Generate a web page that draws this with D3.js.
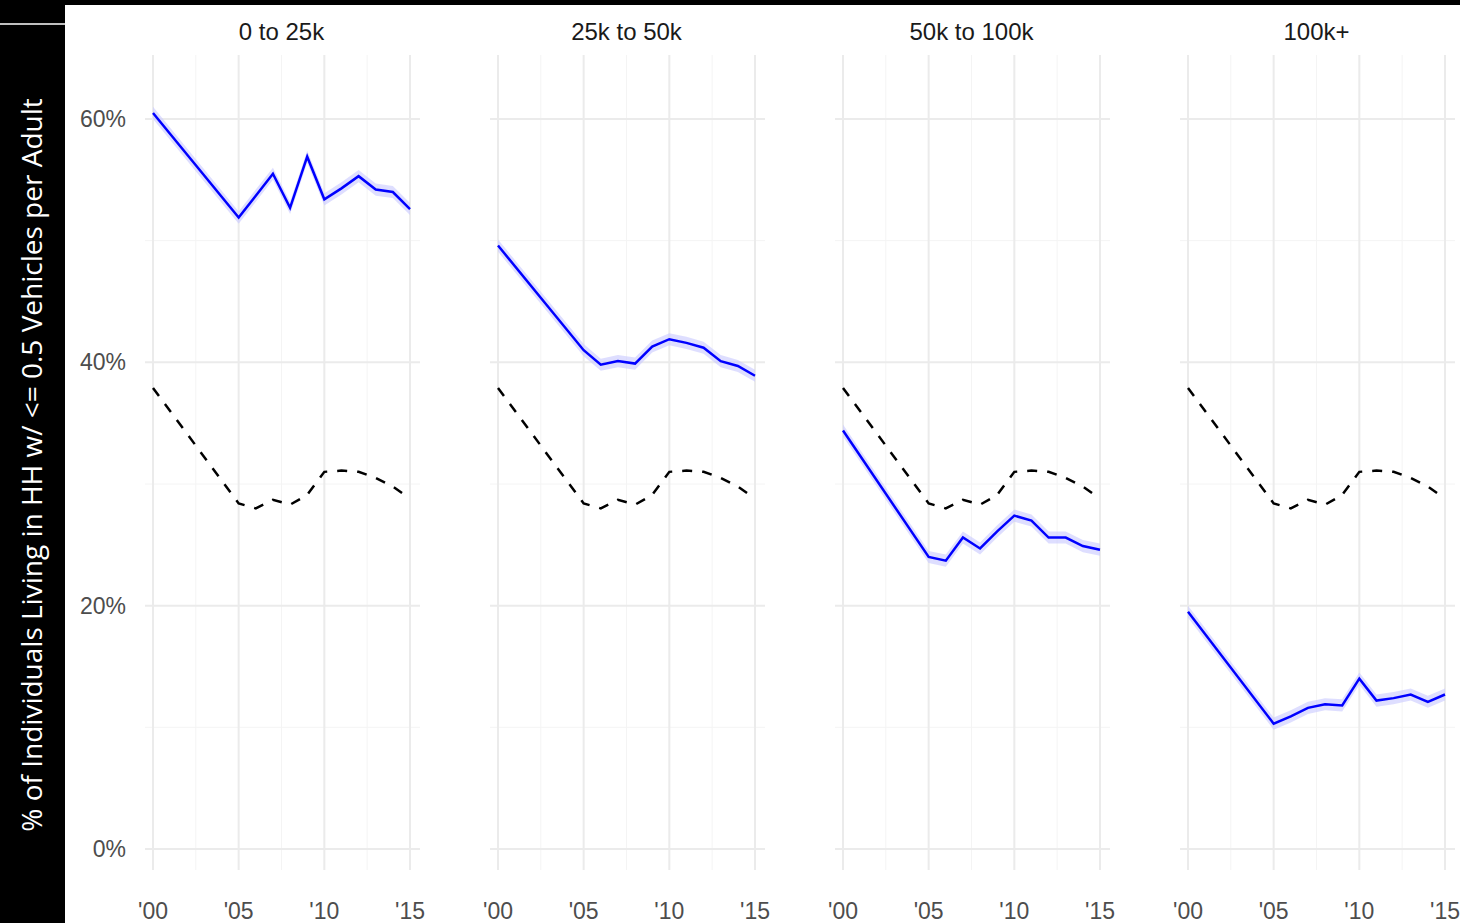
<!DOCTYPE html>
<html><head><meta charset="utf-8">
<script src="https://cdn.jsdelivr.net/npm/d3@7"></script>
<style>body{margin:0;background:#fff}</style></head>
<body><svg id="c" width="1460" height="923"></svg>
<script>
const panels = ["0 to 25k","25k to 50k","50k to 100k","100k+"];
const years = [2000,2005,2006,2007,2008,2009,2010,2011,2012,2013,2014,2015];
const overall = [37.9,28.4,28.0,28.7,28.3,29.1,31.0,31.1,31.0,30.5,29.8,28.8];
const blue0 = [60.5,51.9,53.7,55.5,52.7,56.9,53.4,54.3,55.3,54.2,54.0,52.6];
const blue1 = [49.6,41.0,39.8,40.1,39.9,41.3,41.9,41.6,41.2,40.1,39.7,38.9];
const blue2 = [34.4,24.0,23.7,25.6,24.7,26.1,27.4,27.0,25.6,25.6,24.9,24.6];
const blue3 = [19.5,10.3,10.9,11.6,11.9,11.8,14.0,12.2,12.4,12.7,12.1,12.7];
const blues = [blue0,blue1,blue2,blue3];
const xTicks = [2000,2005,2010,2015], xLabels = ["'00","'05","'10","'15"];
const yTicks = [0,20,40,60];

const svg = d3.select("#c");
const y = d3.scaleLinear().domain([0,60]).range([849,119]);
const starts = [153,498,843,1188];
const font = "Liberation Sans, Arial, sans-serif";

panels.forEach((p,i)=>{
  const x = d3.scaleLinear().domain([2000,2015]).range([starts[i], starts[i]+257]);
  const g = svg.append("g");
  const x0 = x(2000)-8, x1 = x(2015)+10;
  [10,30,50].forEach(v=>g.append("line").attr("x1",x0).attr("x2",x1).attr("y1",y(v)).attr("y2",y(v)).attr("stroke","#f4f4f4").attr("stroke-width",1));
  [2002.5,2007.5,2012.5].forEach(v=>g.append("line").attr("x1",x(v)).attr("x2",x(v)).attr("y1",55).attr("y2",870).attr("stroke","#f4f4f4"));
  yTicks.forEach(v=>g.append("line").attr("x1",x0).attr("x2",x1).attr("y1",y(v)).attr("y2",y(v)).attr("stroke","#ebebeb").attr("stroke-width",2));
  xTicks.forEach(v=>g.append("line").attr("x1",x(v)).attr("x2",x(v)).attr("y1",55).attr("y2",870).attr("stroke","#ebebeb").attr("stroke-width",2));
  xTicks.forEach((v,k)=>g.append("text").attr("x",x(v)).attr("y",919).attr("text-anchor","middle").attr("font-family",font).attr("font-size",23).attr("fill","#4d4d4d").text(xLabels[k]));
  g.append("text").attr("x",(x(2000)+x(2015))/2).attr("y",40).attr("text-anchor","middle").attr("font-family",font).attr("font-size",24).attr("fill","#1a1a1a").text(p);
  const pts = years.map((yr,k)=>[yr,blues[i][k]]);
  g.append("path").datum(pts).attr("fill","#c8c8ff").attr("opacity",0.6)
    .attr("d",d3.area().x(d=>x(d[0])).y0(d=>y(d[1]-0.5)).y1(d=>y(d[1]+0.5)));
  g.append("path").datum(years.map((yr,k)=>[yr,overall[k]])).attr("fill","none").attr("stroke","#000").attr("stroke-width",2.5).attr("stroke-dasharray","10,10")
    .attr("d",d3.line().x(d=>x(d[0])).y(d=>y(d[1])));
  g.append("path").datum(pts).attr("fill","none").attr("stroke","#0000ff").attr("stroke-width",2.5)
    .attr("d",d3.line().x(d=>x(d[0])).y(d=>y(d[1])));
});
yTicks.forEach(v=>svg.append("text").attr("x",126).attr("y",y(v)+8).attr("text-anchor","end").attr("font-family",font).attr("font-size",23).attr("fill","#4d4d4d").text(v+"%"));

svg.append("rect").attr("x",0).attr("y",0).attr("width",1460).attr("height",5).attr("fill","#000");
svg.append("rect").attr("x",0).attr("y",0).attr("width",65).attr("height",923).attr("fill","#000");
svg.append("line").attr("x1",0).attr("x2",65).attr("y1",24).attr("y2",24).attr("stroke","#fff").attr("stroke-width",1.5);
svg.append("text").attr("transform","translate(42,465) rotate(-90)").attr("text-anchor","middle").attr("font-family","Open Sans, DejaVu Sans, sans-serif").attr("font-size",28).attr("fill","#fff").text("% of Individuals Living in HH w/ <= 0.5 Vehicles per Adult");
</script></body></html>
